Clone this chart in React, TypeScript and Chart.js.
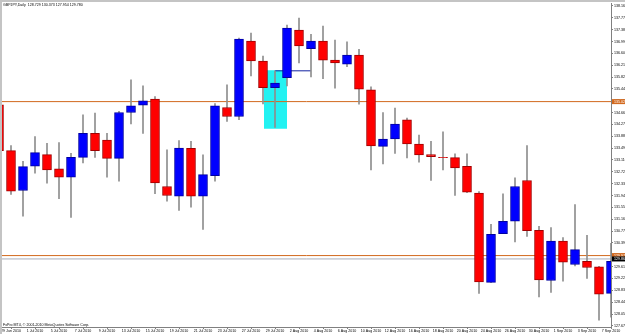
import React, { useEffect, useRef } from 'react';
import { Chart, registerables } from 'chart.js';

Chart.register(...registerables);

const symbolName = 'GBPJPY,Daily';
const copyrightText = 'FxPro MT4, \u00A9 2001-2010 MetaQuotes Software Corp.';

const dates = [
  '28 Jun 2010', '29 Jun 2010', '30 Jun 2010', '1 Jul 2010', '2 Jul 2010',
  '5 Jul 2010', '6 Jul 2010', '7 Jul 2010', '8 Jul 2010', '9 Jul 2010',
  '12 Jul 2010', '13 Jul 2010', '14 Jul 2010', '15 Jul 2010', '16 Jul 2010',
  '19 Jul 2010', '20 Jul 2010', '21 Jul 2010', '22 Jul 2010', '23 Jul 2010',
  '26 Jul 2010', '27 Jul 2010', '28 Jul 2010', '29 Jul 2010', '30 Jul 2010',
  '2 Aug 2010', '3 Aug 2010', '4 Aug 2010', '5 Aug 2010', '6 Aug 2010',
  '9 Aug 2010', '10 Aug 2010', '11 Aug 2010', '12 Aug 2010', '13 Aug 2010',
  '16 Aug 2010', '17 Aug 2010', '18 Aug 2010', '19 Aug 2010', '20 Aug 2010',
  '23 Aug 2010', '24 Aug 2010', '25 Aug 2010', '26 Aug 2010', '27 Aug 2010',
  '30 Aug 2010', '31 Aug 2010', '1 Sep 2010', '2 Sep 2010', '3 Sep 2010',
  '6 Sep 2010', '7 Sep 2010',
];

const opens = [
  134.915, 133.41, 132.105, 132.899, 133.281, 132.814, 132.539, 133.193, 133.977, 133.762,
  133.16, 134.664, 134.905, 135.102, 132.236, 131.919, 133.487, 131.919, 132.595, 134.827,
  134.533, 137.007, 136.353, 135.481, 135.807, 137.366, 136.755, 137.007, 136.386, 136.245,
  136.549, 135.405, 133.553, 133.794, 134.425, 133.631, 133.281, 133.193, 133.183, 132.899,
  132.017, 129.089, 130.69, 131.102, 132.432, 130.798, 129.154, 130.448, 129.677, 129.785,
  129.598, 128.729,
];
const highs = [
  135.11, 133.575, 133.062, 133.87, 133.651, 133.673, 133.324, 134.588, 134.644, 133.977,
  134.70, 135.732, 135.536, 135.187, 133.435, 133.739, 133.716, 133.272, 134.958, 135.569,
  137.10, 137.268, 136.517, 136.026, 137.53, 137.758, 137.226, 137.497, 137.039, 136.984,
  136.736, 135.504, 134.664, 134.807, 134.481, 133.925, 133.716, 134.033, 133.304, 133.304,
  132.072, 130.994, 131.997, 132.52, 133.575, 130.928, 130.886, 130.559, 131.647, 130.634,
  129.62, 130.373,
];
const lows = [
  132.824, 131.974, 131.265, 132.67, 132.343, 131.834, 131.222, 133.01, 133.193, 132.539,
  132.409, 134.285, 133.977, 131.997, 131.755, 131.451, 131.559, 130.83, 132.409, 134.37,
  134.425, 135.863, 134.948, 134.173, 135.536, 136.288, 135.83, 135.775, 135.461, 136.167,
  134.938, 132.781, 132.977, 133.324, 133.173, 133.03, 132.432, 132.781, 131.941, 132.03,
  128.729, 129.08, 130.69, 130.415, 130.602, 128.618, 128.762, 129.131, 129.631, 129.219,
  127.856, 127.954,
];
const closes = [
  133.412, 132.082, 132.889, 133.347, 132.781, 132.539, 133.193, 133.977, 133.412, 133.16,
  134.664, 134.883, 135.046, 132.356, 131.941, 133.5, 131.919, 132.628, 134.883, 134.533,
  137.072, 136.353, 135.481, 135.624, 137.432, 136.843, 137.007, 136.376, 136.288, 136.549,
  135.428, 133.566, 133.794, 134.285, 133.631, 133.272, 133.216, 133.183, 132.847, 132.049,
  129.108, 130.667, 131.092, 132.236, 130.788, 129.174, 130.448, 129.752, 130.167, 129.579,
  128.706, 129.78,
];

const priceTicks = [
  138.16, 137.77, 137.38, 136.99, 136.6, 136.21, 135.82, 135.44, 135.05, 134.66,
  134.27, 133.88, 133.49, 133.11, 132.72, 132.33, 131.94, 131.55, 131.16, 130.77,
  130.39, 130.0, 129.61, 129.22, 128.83, 128.44, 128.05, 127.67,
];
const priceMin = 127.628;
const priceMax = 138.249;
const indexMin = 0.25;
const indexMax = 51;

const horizontalLevels = [135.02, 129.97];
const bidPrice = 129.86;
const zoneFrom = 22.08;
const zoneTo = 24.0;
const zoneHigh = 136.03;
const zoneLow = 134.13;
const trendFrom = 23;
const trendTo = 26;
const trendLevel = 136.03;

const FONT = "'Liberation Sans', Arial, sans-serif";
const RED = '#FF0000';
const BLUE = '#0000FF';
const ORANGE = '#D2691E';
const AXIS = '#808080';

const overlay = {
  id: 'mtOverlay',
  beforeDraw(chart: any) {
    const { ctx, width, height } = chart;
    ctx.save();
    ctx.fillStyle = '#FFFFFF';
    ctx.fillRect(0, 0, width, height);
    ctx.restore();
  },
  afterDraw(chart: any) {
    const { ctx, chartArea, scales } = chart;
    const y = scales.y;
    ctx.save();
    // window frame
    ctx.fillStyle = '#C4C4C4';
    ctx.fillRect(0, 0, chart.width, 2);
    ctx.fillRect(0, 0, 2, chart.height);
    ctx.font = `3.6px ${FONT}`;
    ctx.fillStyle = '#000';
    ctx.textBaseline = 'top';
    ctx.textAlign = 'left';
    const n = opens.length - 1;
    const title = `${symbolName}  ${opens[n].toFixed(3)} ${highs[n].toFixed(3)} ${lows[n].toFixed(3)} ${closes[n].toFixed(3)}`;
    ctx.fillText(title, 3, 3);
    ctx.textBaseline = 'bottom';
    ctx.fillText(copyrightText, 3, chartArea.bottom - 0.5);
    // price labels on the axis
    const drawLabel = (value: number, bg: string) => {
      const py = y.getPixelForValue(value);
      ctx.fillStyle = bg;
      ctx.fillRect(chartArea.right + 1, py - 2.5, 14, 5);
      ctx.fillStyle = '#FFFFFF';
      ctx.textBaseline = 'middle';
      ctx.fillText(value.toFixed(3), chartArea.right + 3, py);
    };
    horizontalLevels.forEach((v) => drawLabel(v, ORANGE));
    drawLabel(bidPrice, '#000000');
    ctx.restore();
  },
};

export default function App() {
  const ref = useRef<HTMLCanvasElement | null>(null);
  useEffect(() => {
    if (!ref.current) return;
    const idx = dates.map((_, i) => i);
    const tickIdx = idx.filter((i) => i % 2 === 1);
    const up = idx.map((i) => closes[i] >= opens[i]);

    const datasets: any[] = [
      {
        type: 'bar',
        label: 'bodies',
        data: idx.map((i) => ({ x: i, y: [opens[i], closes[i]] })),
        backgroundColor: up.map((u) => (u ? BLUE : RED)),
        borderColor: up.map((u) => (u ? '#0000A0' : '#A00000')),
        borderWidth: 1,
        borderSkipped: false,
        grouped: false,
        barThickness: 9,
        maxBarThickness: 9,
        order: 1,
      },
      {
        type: 'bar',
        label: 'wicks',
        data: idx.map((i) => ({ x: i, y: [lows[i], highs[i]] })),
        backgroundColor: '#8E8E8E',
        borderWidth: 0,
        grouped: false,
        barThickness: 1,
        maxBarThickness: 1,
        order: 2,
      },
      {
        type: 'line',
        label: 'trend',
        data: [
          { x: trendFrom, y: trendLevel },
          { x: trendTo, y: trendLevel },
        ],
        borderColor: '#1020A0',
        borderWidth: 1,
        pointRadius: 0,
        fill: false,
        order: 3,
      },
      ...horizontalLevels.map((v) => ({
        type: 'line',
        label: 'level',
        data: [
          { x: -1, y: v },
          { x: 53, y: v },
        ],
        borderColor: ORANGE,
        borderWidth: 1,
        pointRadius: 0,
        fill: false,
        order: 4,
      })),
      {
        type: 'line',
        label: 'bid',
        data: [
          { x: -1, y: bidPrice },
          { x: 53, y: bidPrice },
        ],
        borderColor: '#A8AEBA',
        borderWidth: 1,
        pointRadius: 0,
        fill: false,
        order: 5,
      },
      {
        type: 'line',
        label: 'zone',
        data: [
          { x: zoneFrom, y: zoneHigh },
          { x: zoneTo, y: zoneHigh },
        ],
        borderColor: '#22F2F2',
        backgroundColor: '#22F2F2',
        borderWidth: 1,
        pointRadius: 0,
        fill: { value: zoneLow },
        order: 6,
      },
    ];

    const chart = new Chart(ref.current, {
      type: 'bar',
      data: { datasets },
      options: {
        responsive: false,
        animation: false,
        devicePixelRatio: 1,
        layout: { padding: { left: 2, top: 2, right: 0, bottom: 0 } },
        plugins: { legend: { display: false }, tooltip: { enabled: false } },
        scales: {
          x: {
            type: 'linear',
            min: indexMin,
            max: indexMax,
            offset: false,
            grid: { display: true, offset: false, drawOnChartArea: false, drawTicks: true, tickLength: 2, color: AXIS },
            border: { display: true, color: AXIS },
            ticks: {
              autoSkip: false,
              maxRotation: 0,
              minRotation: 0,
              padding: 0,
              color: '#000',
              font: { size: 3.6, family: FONT },
              callback: (v: any) => dates[Math.round(Number(v))] ?? '',
            },
            afterBuildTicks: (s: any) => {
              s.ticks = tickIdx.map((v) => ({ value: v }));
            },
            afterFit: (s: any) => {
              s.height = 7;
            },
          },
          y: {
            type: 'linear',
            position: 'right',
            min: priceMin,
            max: priceMax,
            beginAtZero: false,
            grid: { display: true, drawOnChartArea: false, drawTicks: true, tickLength: 2, color: AXIS },
            border: { display: true, color: AXIS },
            ticks: {
              autoSkip: false,
              padding: 1,
              color: '#000',
              font: { size: 3.6, family: FONT },
              callback: (v: any) => Number(v).toFixed(3),
            },
            afterBuildTicks: (s: any) => {
              s.ticks = priceTicks.map((v) => ({ value: v }));
            },
            afterFit: (s: any) => {
              s.width = 14;
            },
          },
        },
      } as any,
      plugins: [overlay],
    });
    return () => chart.destroy();
  }, []);

  return (
    <div style={{ position: 'fixed', left: 0, top: 0, width: 625, height: 334, background: '#fff' }}>
      <canvas ref={ref} width={625} height={334} style={{ display: 'block' }} />
    </div>
  );
}
